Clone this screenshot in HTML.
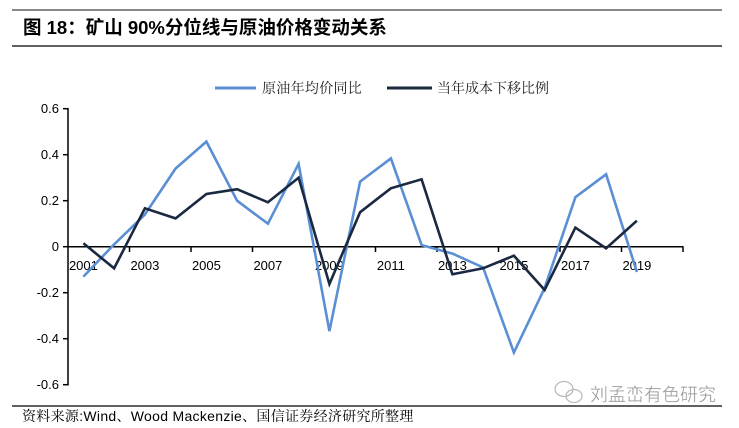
<!DOCTYPE html>
<html><head><meta charset="utf-8"><style>
html,body{margin:0;padding:0;background:#fff;width:739px;height:428px;overflow:hidden}
svg{display:block}
</style></head><body>
<svg width="739" height="428" viewBox="0 0 739 428" xmlns="http://www.w3.org/2000/svg">
<rect width="739" height="428" fill="#fff"/>
<line x1="12" y1="10" x2="722" y2="10" stroke="#888" stroke-width="2"/>
<text x="23" y="34" font-family="'Liberation Sans','Noto Sans CJK SC',sans-serif" font-size="18.5" font-weight="bold" fill="#000">图 18：矿山 90%分位线与原油价格变动关系</text>
<line x1="12" y1="46" x2="722" y2="46" stroke="#000" stroke-width="1.2"/>
<!-- legend -->
<line x1="215" y1="88" x2="256" y2="88" stroke="#5b8fd4" stroke-width="3"/>
<text x="262" y="93" font-family="'Liberation Serif','Noto Serif CJK SC',serif" font-size="14" letter-spacing="0.3" fill="#222">原油年均价同比</text>
<line x1="387" y1="88" x2="432" y2="88" stroke="#1a2940" stroke-width="3"/>
<text x="437" y="93" font-family="'Liberation Serif','Noto Serif CJK SC',serif" font-size="14" fill="#222">当年成本下移比例</text>
<!-- y axis -->
<g stroke="#000" stroke-width="1.5" fill="none">
<line x1="68" y1="108" x2="68" y2="385.5"/>
<line x1="63" y1="108.7" x2="68" y2="108.7"/>
<line x1="63" y1="154.7" x2="68" y2="154.7"/>
<line x1="63" y1="200.7" x2="68" y2="200.7"/>
<line x1="63" y1="246.7" x2="68" y2="246.7"/>
<line x1="63" y1="292.7" x2="68" y2="292.7"/>
<line x1="63" y1="338.7" x2="68" y2="338.7"/>
<line x1="63" y1="384.7" x2="68" y2="384.7"/>
</g>
<g font-family="'Liberation Sans',sans-serif" font-size="13" fill="#000" text-anchor="end">
<text x="59" y="113">0.6</text>
<text x="59" y="159">0.4</text>
<text x="59" y="205">0.2</text>
<text x="59" y="251">0</text>
<text x="59" y="297">-0.2</text>
<text x="59" y="343">-0.4</text>
<text x="59" y="389">-0.6</text>
</g>
<!-- x axis -->
<g stroke="#000" stroke-width="1.5">
<line x1="68" y1="246.7" x2="683.5" y2="246.7"/>
<line x1="129.5" y1="246.7" x2="129.5" y2="252"/>
<line x1="191" y1="246.7" x2="191" y2="252"/>
<line x1="252.5" y1="246.7" x2="252.5" y2="252"/>
<line x1="314" y1="246.7" x2="314" y2="252"/>
<line x1="375.5" y1="246.7" x2="375.5" y2="252"/>
<line x1="437" y1="246.7" x2="437" y2="252"/>
<line x1="498.5" y1="246.7" x2="498.5" y2="252"/>
<line x1="560" y1="246.7" x2="560" y2="252"/>
<line x1="621.5" y1="246.7" x2="621.5" y2="252"/>
<line x1="683" y1="246.7" x2="683" y2="252"/>
</g>
<g font-family="'Liberation Sans',sans-serif" font-size="13" fill="#000" text-anchor="middle">
<text x="83.4" y="270">2001</text>
<text x="144.9" y="270">2003</text>
<text x="206.4" y="270">2005</text>
<text x="267.9" y="270">2007</text>
<text x="329.4" y="270">2009</text>
<text x="390.9" y="270">2011</text>
<text x="452.4" y="270">2013</text>
<text x="513.9" y="270">2015</text>
<text x="575.4" y="270">2017</text>
<text x="636.9" y="270">2019</text>
</g>
<!-- series -->
<polyline fill="none" stroke="#5b8fd4" stroke-width="2.6" stroke-linejoin="miter" points="83.4,276.6 114.1,244.4 144.9,214.5 175.6,168.5 206.4,141.6 237.1,200.7 267.9,223.7 298.6,163.9 329.4,331.1 360.1,181.6 390.9,158.4 421.6,245.1 452.4,253.6 483.1,267.4 513.9,352.5 544.6,288.1 575.4,197.2 606.1,174.3 636.9,272"/>
<polyline fill="none" stroke="#1a2940" stroke-width="2.6" stroke-linejoin="miter" points="83.4,243.3 114.1,268.3 144.9,208.3 175.6,218.4 206.4,194 237.1,189.2 267.9,202.3 298.6,177.7 329.4,284 360.1,212.2 390.9,188.3 421.6,179.3 452.4,274.3 483.1,268.3 513.9,255.7 544.6,290 575.4,227.6 606.1,248.3 636.9,220.7"/>
<!-- watermark -->
<g fill="none" stroke="#bbb" stroke-width="1.3">
<ellipse cx="564" cy="389" rx="9" ry="7.5"/>
<ellipse cx="574" cy="396" rx="8" ry="6.5"/>
</g>
<text x="590" y="401" font-family="'Liberation Sans','Noto Sans CJK SC',sans-serif" font-size="18" fill="#9a9a9a" stroke="#fff" stroke-width="0.3">刘孟峦有色研究</text>
<line x1="12" y1="406" x2="722" y2="406" stroke="#000" stroke-width="1.2"/>
<text x="22" y="421" font-family="'Liberation Sans','Noto Serif CJK SC',serif" font-size="14" letter-spacing="0.3" fill="#000">资料来源:Wind、Wood Mackenzie、国信证券经济研究所整理</text>
</svg>
</body></html>
